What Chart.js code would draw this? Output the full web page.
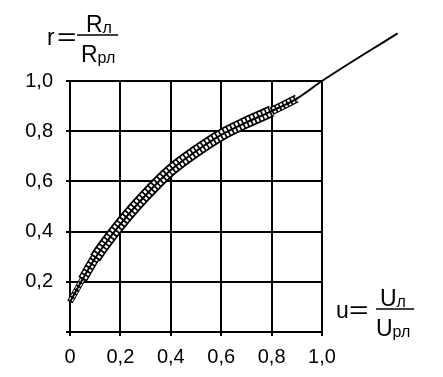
<!DOCTYPE html>
<html>
<head>
<meta charset="utf-8">
<script src="https://cdn.jsdelivr.net/npm/chart.js@4/dist/chart.umd.min.js"></script>
<style>
    html, body { margin: 0; padding: 0; background: #fff; }
    #wrap { width: 443px; height: 377px; position: relative; }
</style>
</head>
<body>
<div id="wrap"><canvas id="chart"></canvas></div>
<script>
// данные кривой r(u)
const curveU = [0, 0.05, 0.1, 0.2, 0.3, 0.4, 0.5, 0.6, 0.7, 0.8, 0.9, 1.0, 1.3];
const curveR = [0.12, 0.21, 0.295, 0.43, 0.545, 0.645, 0.72, 0.785, 0.835, 0.88, 0.93, 1.0, 1.19];
// заштрихованная полоса идёт до u = 0,9
const bandCount = 11;

const xTickValues = [0, 0.2, 0.4, 0.6, 0.8, 1.0];
const xTickLabels = ['0', '0,2', '0,4', '0,6', '0,8', '1,0'];
const yTickValues = [0, 0.2, 0.4, 0.6, 0.8, 1.0];
const yTickLabels = ['', '0,2', '0,4', '0,6', '0,8', '1,0'];

const FONT = '"Liberation Sans", Arial, sans-serif';

const curvePts = curveU.map((u, i) => ({ x: u, y: curveR[i] }));
const bandPts = curvePts.slice(0, bandCount);

// полоса сужается к концам
function taper(i) {
    if (i === 0) return 0.5;
    if (i === 1) return 0.8;
    if (i === bandCount - 2) return 0.7;
    return 1;
}
const bandWidth = w => ({ borderWidth: c => w * taper(c.p0DataIndex) });

// подписи осей в виде дробей
function drawFrac(ctx, lead, leadX, eqX, baseY, barX1, barX2, barY, num, numX, den, denX) {
    ctx.save();
    ctx.fillStyle = '#000';
    ctx.strokeStyle = '#000';
    ctx.textBaseline = 'alphabetic';
    ctx.textAlign = 'left';
    ctx.font = '23px ' + FONT;
    ctx.fillText(lead, leadX, baseY);
    // широкий знак «=»
    ctx.save();
    ctx.translate(eqX, baseY);
    ctx.scale(1.45, 1);
    ctx.fillText('=', 0, 0);
    ctx.restore();
    ctx.lineWidth = 1.5;
    ctx.beginPath();
    ctx.moveTo(barX1, barY);
    ctx.lineTo(barX2, barY);
    ctx.stroke();
    [[num, numX, barY - 3], [den, denX, barY + 27]].forEach(([t, x, y]) => {
        ctx.font = '23px ' + FONT;
        ctx.fillText(t[0], x, y);
        const w = ctx.measureText(t[0]).width;
        ctx.font = '16px ' + FONT;
        ctx.fillText(t[1], x + w, y + 1);
    });
    ctx.restore();
}

const titlesPlugin = {
    id: 'titles',
    afterDraw(chart) {
        const ctx = chart.ctx;
        drawFrac(ctx, 'r', 47, 57, 45, 77, 118, 35, ['R', 'л'], 86, ['R', 'рл'], 81);
        drawFrac(ctx, 'u', 336, 349, 318, 376, 414, 309, ['U', 'л'], 380, ['U', 'рл'], 376);
    }
};

const lineBase = {
    pointRadius: 0,
    pointHoverRadius: 0,
    cubicInterpolationMode: 'monotone',
    borderCapStyle: 'butt',
    fill: false,
    clip: false
};

new Chart(document.getElementById('chart'), {
    type: 'line',
    data: {
        datasets: [
            // тонкая сплошная линия по всей кривой
            Object.assign({}, lineBase, {
                data: curvePts, borderColor: '#000', borderWidth: 2, order: 1
            }),
            // поперечные штрихи полосы
            Object.assign({}, lineBase, {
                data: bandPts, borderColor: '#000', borderWidth: 11,
                borderDash: [1.7, 2.5], segment: bandWidth(11), order: 2
            }),
            // внутренняя белая часть полосы
            Object.assign({}, lineBase, {
                data: bandPts, borderColor: '#fff', borderWidth: 8.5,
                segment: bandWidth(8.5), order: 3
            }),
            // контур полосы
            Object.assign({}, lineBase, {
                data: bandPts, borderColor: '#000', borderWidth: 12,
                segment: bandWidth(12), order: 4
            })
        ]
    },
    options: {
        responsive: true,
        maintainAspectRatio: false,
        animation: false,
        events: [],
        layout: { padding: { top: 81, right: 121, left: 0, bottom: 0 } },
        plugins: { legend: { display: false }, tooltip: { enabled: false } },
        scales: {
            x: {
                type: 'linear',
                // границы задаются здесь, чтобы линия за u = 1 не обрезалась
                afterDataLimits: s => { s.min = 0; s.max = 1; },
                afterBuildTicks: s => { s.ticks = xTickValues.map(v => ({ value: v })); },
                afterFit: s => { s.height = 45; },
                ticks: {
                    color: '#000',
                    font: { family: FONT, size: 20 },
                    padding: 9,
                    maxRotation: 0,
                    callback: (v, i) => xTickLabels[i]
                },
                grid: { color: '#000', lineWidth: 2, tickLength: 4 },
                border: { color: '#000', width: 2 }
            },
            y: {
                afterDataLimits: s => { s.min = 0; s.max = 1; },
                afterBuildTicks: s => { s.ticks = yTickValues.map(v => ({ value: v })); },
                afterFit: s => { s.width = 70; },
                ticks: {
                    color: '#000',
                    font: { family: FONT, size: 20 },
                    padding: 13,
                    callback: (v, i) => yTickLabels[i]
                },
                grid: { color: '#000', lineWidth: 2, tickLength: 4 },
                border: { color: '#000', width: 2 }
            }
        }
    },
    plugins: [titlesPlugin]
});
</script>
</body>
</html>
